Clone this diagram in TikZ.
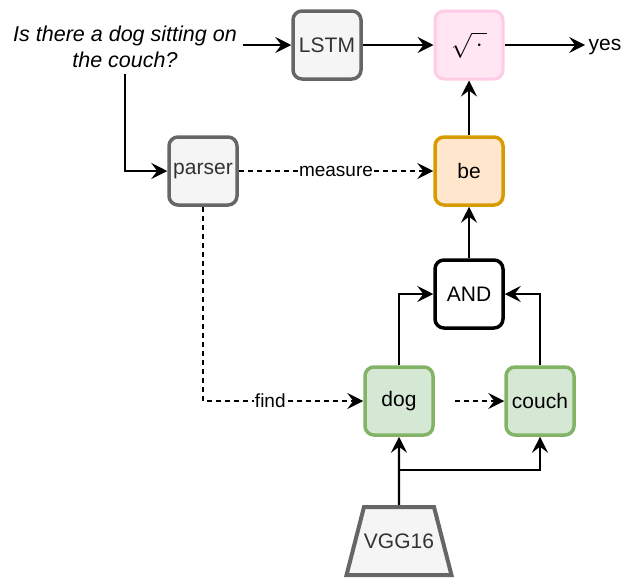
\documentclass[tikz,border=0pt]{standalone}
\usepackage{fontspec}
\setmainfont{Liberation Sans}
\usetikzlibrary{arrows.meta,positioning,shapes.geometric}

\definecolor{boxgray}{HTML}{666666}
\definecolor{fillgray}{HTML}{F5F5F5}
\definecolor{textgray}{HTML}{333333}
\definecolor{pinkline}{HTML}{FFCCE6}
\definecolor{pinkfill}{HTML}{FFE6F2}
\definecolor{orangeline}{HTML}{D79B00}
\definecolor{orangefill}{HTML}{FFE6CC}
\definecolor{greenline}{HTML}{82B366}
\definecolor{greenfill}{HTML}{D5E8D4}

\tikzset{
  box/.style={draw, rounded corners=9pt, line width=3.5pt, minimum width=68pt,
    minimum height=68pt, inner sep=2pt, font=\fontsize{21}{25}\selectfont},
  graybox/.style={box, draw=boxgray, fill=fillgray, text=textgray},
  pinkbox/.style={box, draw=pinkline, fill=pinkfill, line width=3pt},
  orangebox/.style={box, draw=orangeline, fill=orangefill},
  greenbox/.style={box, draw=greenline, fill=greenfill},
  andbox/.style={box, draw=black, fill=white},
  plain/.style={font=\fontsize{21}{25}\selectfont},
  link/.style={line width=1.5pt, -{Stealth[length=16pt,width=16pt,inset=6pt]}},
  dlink/.style={link, dash pattern=on 5pt off 4pt},
  lbl/.style={fill=white, inner sep=1pt, font=\fontsize{19}{23}\selectfont}
}

\begin{document}
\begin{tikzpicture}[x=1pt,y=-1pt]
  \useasboundingbox (0,0) rectangle (640,579);

  % question and language side
  \node[align=center, inner sep=6pt, font=\fontsize{21.5}{26}\selectfont\itshape] (q) at (125,47)
    {Is there a dog sitting on\\the couch?};
  \node[graybox] (lstm) at (327,45) {LSTM};
  \node[pinkbox] (sqrt) at (469,45) {\fontsize{30}{34}\selectfont$\sqrt{\,\cdot\,}$};
  \node[plain] (yes) at (605,47) {yes};
  \node[graybox] (parser) at (203,171) {parser};

  % modules
  \node[orangebox] (be) at (469,171) {be};
  \node[andbox] (and) at (469,294) {AND};
  \node[greenbox] (dog) at (399,401) {dog};
  \node[greenbox] (couch) at (540,401) {couch};
  \node[trapezium, trapezium left angle=51, trapezium right angle=51,
    trapezium stretches=true, inner xsep=0pt, minimum width=10pt, minimum height=68pt,
    draw=boxgray, fill=fillgray, line width=4pt, text=textgray,
    font=\fontsize{21}{25}\selectfont] (vgg) at (399,541) {VGG16};
  \coordinate (split) at (399,470);

  \draw[link] (q.east |- lstm) -- (lstm);
  \draw[link] (lstm) -- (sqrt);
  \draw[link] (sqrt) -- (sqrt -| yes.west);
  \draw[link] (q.south) |- (parser.west);
  \draw[dlink] (parser) -- node[lbl] {measure} (be);
  \draw[dlink] (parser.south) |- node[lbl, pos=0.71] {find} (dog.west);
  \draw[dlink] ([xshift=20pt]dog.east) -- (couch.west);
  \draw[link] (be) -- (sqrt);
  \draw[link] (and) -- (be);
  \draw[link] (dog.north) |- (and.west);
  \draw[link] (couch.north) |- (and.east);
  \draw[link, line width=2.2pt] (vgg.north) -- (dog.south);
  \draw[link] (split) -| (couch.south);
\end{tikzpicture}
\end{document}
